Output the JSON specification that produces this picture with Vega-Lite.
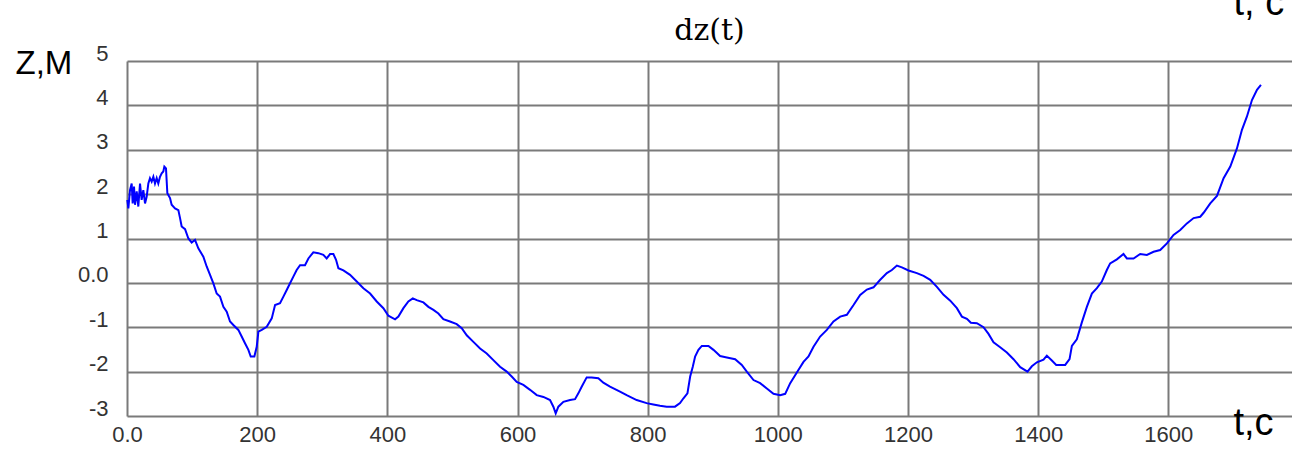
{
  "$schema": "https://vega.github.io/schema/vega-lite/v6.json",
  "width": 1165,
  "height": 355,
  "autosize": {"type": "none"},
  "padding": {"left": 127, "top": 61, "right": 0, "bottom": 33},
  "background": "white",
  "config": {"view": {"stroke": null}},
  "title": {"text": "dz(t)", "font": "DejaVu Serif", "fontSize": 30, "fontWeight": "normal", "color": "#000000", "anchor": "middle", "baseline": "alphabetic", "offset": 0, "dy": 86},
  "data": {"values": [
    {"t": 0.5, "z": 1.87}, {"t": 2.1, "z": 1.68}, {"t": 4.6, "z": 2.09}, {"t": 7.2, "z": 2.24}, {"t": 8.7, "z": 1.79},
    {"t": 10.8, "z": 2.17}, {"t": 12.3, "z": 1.76}, {"t": 14.9, "z": 2.06}, {"t": 17.4, "z": 1.72}, {"t": 20.0, "z": 2.24},
    {"t": 22.5, "z": 1.87}, {"t": 25.1, "z": 2.09}, {"t": 27.7, "z": 1.79}, {"t": 30.2, "z": 1.94}, {"t": 32.8, "z": 2.24},
    {"t": 35.3, "z": 2.36}, {"t": 37.9, "z": 2.28}, {"t": 40.5, "z": 2.39}, {"t": 43.0, "z": 2.24}, {"t": 45.6, "z": 2.36},
    {"t": 48.1, "z": 2.24}, {"t": 50.7, "z": 2.39}, {"t": 53.3, "z": 2.47}, {"t": 55.8, "z": 2.51}, {"t": 57.4, "z": 2.62},
    {"t": 59.9, "z": 2.58}, {"t": 62.0, "z": 2.02}, {"t": 66.1, "z": 1.91}, {"t": 68.6, "z": 1.76}, {"t": 73.8, "z": 1.68},
    {"t": 78.9, "z": 1.64}, {"t": 81.5, "z": 1.46}, {"t": 84.0, "z": 1.27}, {"t": 89.2, "z": 1.21}, {"t": 94.3, "z": 1.0},
    {"t": 99.4, "z": 0.91}, {"t": 104.5, "z": 0.97}, {"t": 109.6, "z": 0.78}, {"t": 117.3, "z": 0.59}, {"t": 122.4, "z": 0.37},
    {"t": 127.6, "z": 0.18}, {"t": 132.7, "z": -0.01}, {"t": 137.8, "z": -0.24}, {"t": 142.9, "z": -0.31}, {"t": 148.1, "z": -0.54},
    {"t": 153.2, "z": -0.65}, {"t": 158.3, "z": -0.87}, {"t": 163.4, "z": -0.95}, {"t": 171.1, "z": -1.06}, {"t": 176.2, "z": -1.21},
    {"t": 181.3, "z": -1.36}, {"t": 186.5, "z": -1.51}, {"t": 190.1, "z": -1.66}, {"t": 195.7, "z": -1.66}, {"t": 199.3, "z": -1.44},
    {"t": 201.9, "z": -1.1}, {"t": 207.0, "z": -1.06}, {"t": 214.7, "z": -0.99}, {"t": 222.4, "z": -0.8}, {"t": 227.5, "z": -0.5},
    {"t": 235.1, "z": -0.46}, {"t": 240.3, "z": -0.31}, {"t": 245.4, "z": -0.16}, {"t": 250.5, "z": -0.01}, {"t": 255.6, "z": 0.14},
    {"t": 260.7, "z": 0.29}, {"t": 265.9, "z": 0.4}, {"t": 273.5, "z": 0.4}, {"t": 278.7, "z": 0.55}, {"t": 286.3, "z": 0.69},
    {"t": 294.0, "z": 0.67}, {"t": 301.7, "z": 0.63}, {"t": 306.8, "z": 0.55}, {"t": 312.0, "z": 0.65}, {"t": 317.1, "z": 0.65},
    {"t": 321.2, "z": 0.52}, {"t": 324.8, "z": 0.33}, {"t": 332.5, "z": 0.28}, {"t": 342.7, "z": 0.18}, {"t": 353.0, "z": 0.03},
    {"t": 363.2, "z": -0.12}, {"t": 373.5, "z": -0.24}, {"t": 383.7, "z": -0.42}, {"t": 393.9, "z": -0.57}, {"t": 401.6, "z": -0.74},
    {"t": 404.2, "z": -0.76}, {"t": 411.9, "z": -0.82}, {"t": 417.0, "z": -0.76}, {"t": 424.7, "z": -0.57}, {"t": 432.3, "z": -0.42},
    {"t": 439.1, "z": -0.35}, {"t": 445.2, "z": -0.39}, {"t": 455.4, "z": -0.44}, {"t": 463.1, "z": -0.54}, {"t": 470.8, "z": -0.61},
    {"t": 478.4, "z": -0.69}, {"t": 486.1, "z": -0.82}, {"t": 496.3, "z": -0.87}, {"t": 506.6, "z": -0.93}, {"t": 514.3, "z": -1.02},
    {"t": 522.0, "z": -1.18}, {"t": 532.2, "z": -1.33}, {"t": 542.5, "z": -1.48}, {"t": 552.7, "z": -1.59}, {"t": 562.9, "z": -1.74},
    {"t": 573.2, "z": -1.89}, {"t": 583.4, "z": -2.0}, {"t": 591.1, "z": -2.11}, {"t": 598.8, "z": -2.23}, {"t": 609.0, "z": -2.3},
    {"t": 619.3, "z": -2.41}, {"t": 629.5, "z": -2.53}, {"t": 639.8, "z": -2.57}, {"t": 650.0, "z": -2.64}, {"t": 655.1, "z": -2.79},
    {"t": 658.7, "z": -2.94}, {"t": 662.8, "z": -2.79}, {"t": 670.5, "z": -2.68}, {"t": 680.7, "z": -2.64}, {"t": 688.4, "z": -2.62},
    {"t": 693.5, "z": -2.49}, {"t": 698.6, "z": -2.34}, {"t": 706.3, "z": -2.13}, {"t": 714.0, "z": -2.13}, {"t": 724.2, "z": -2.15},
    {"t": 731.9, "z": -2.25}, {"t": 742.1, "z": -2.34}, {"t": 757.5, "z": -2.45}, {"t": 767.7, "z": -2.53}, {"t": 783.1, "z": -2.64},
    {"t": 798.4, "z": -2.71}, {"t": 808.7, "z": -2.74}, {"t": 818.9, "z": -2.77}, {"t": 829.2, "z": -2.79}, {"t": 842.0, "z": -2.79},
    {"t": 849.7, "z": -2.71}, {"t": 855.0, "z": -2.6}, {"t": 861.1, "z": -2.49}, {"t": 865.3, "z": -2.11}, {"t": 869.3, "z": -1.89},
    {"t": 872.9, "z": -1.66}, {"t": 878.0, "z": -1.51}, {"t": 883.2, "z": -1.42}, {"t": 893.4, "z": -1.42}, {"t": 901.1, "z": -1.51},
    {"t": 911.3, "z": -1.65}, {"t": 921.6, "z": -1.68}, {"t": 934.4, "z": -1.72}, {"t": 944.6, "z": -1.85}, {"t": 952.3, "z": -2.0},
    {"t": 962.6, "z": -2.19}, {"t": 972.8, "z": -2.26}, {"t": 983.1, "z": -2.38}, {"t": 993.3, "z": -2.5}, {"t": 1003.6, "z": -2.53},
    {"t": 1011.3, "z": -2.5}, {"t": 1019.0, "z": -2.26}, {"t": 1029.2, "z": -2.02}, {"t": 1039.4, "z": -1.78}, {"t": 1047.1, "z": -1.66},
    {"t": 1054.8, "z": -1.44}, {"t": 1065.0, "z": -1.21}, {"t": 1075.3, "z": -1.06}, {"t": 1085.5, "z": -0.87}, {"t": 1095.8, "z": -0.76},
    {"t": 1106.0, "z": -0.72}, {"t": 1116.3, "z": -0.5}, {"t": 1126.5, "z": -0.27}, {"t": 1136.8, "z": -0.15}, {"t": 1147.0, "z": -0.1},
    {"t": 1157.3, "z": 0.07}, {"t": 1167.5, "z": 0.22}, {"t": 1175.2, "z": 0.29}, {"t": 1182.9, "z": 0.39}, {"t": 1190.6, "z": 0.35},
    {"t": 1200.8, "z": 0.28}, {"t": 1213.6, "z": 0.22}, {"t": 1223.9, "z": 0.16}, {"t": 1234.1, "z": 0.07}, {"t": 1244.4, "z": -0.09},
    {"t": 1254.6, "z": -0.27}, {"t": 1264.9, "z": -0.4}, {"t": 1275.1, "z": -0.57}, {"t": 1282.8, "z": -0.76}, {"t": 1290.5, "z": -0.81},
    {"t": 1296.6, "z": -0.9}, {"t": 1305.8, "z": -0.91}, {"t": 1316.0, "z": -1.0}, {"t": 1323.7, "z": -1.15}, {"t": 1331.4, "z": -1.34},
    {"t": 1341.6, "z": -1.45}, {"t": 1351.9, "z": -1.57}, {"t": 1362.1, "z": -1.72}, {"t": 1372.4, "z": -1.9}, {"t": 1383.6, "z": -2.0},
    {"t": 1390.3, "z": -1.88}, {"t": 1398.0, "z": -1.79}, {"t": 1408.2, "z": -1.73}, {"t": 1413.3, "z": -1.64}, {"t": 1421.0, "z": -1.75},
    {"t": 1427.7, "z": -1.85}, {"t": 1441.5, "z": -1.85}, {"t": 1448.2, "z": -1.72}, {"t": 1451.8, "z": -1.42}, {"t": 1459.4, "z": -1.27},
    {"t": 1467.1, "z": -0.89}, {"t": 1474.8, "z": -0.54}, {"t": 1482.5, "z": -0.24}, {"t": 1490.2, "z": -0.12}, {"t": 1497.8, "z": 0.03},
    {"t": 1505.5, "z": 0.29}, {"t": 1510.6, "z": 0.44}, {"t": 1520.9, "z": 0.53}, {"t": 1531.1, "z": 0.65}, {"t": 1536.3, "z": 0.55},
    {"t": 1546.5, "z": 0.55}, {"t": 1556.8, "z": 0.65}, {"t": 1567.0, "z": 0.63}, {"t": 1577.3, "z": 0.7}, {"t": 1587.5, "z": 0.74},
    {"t": 1597.8, "z": 0.89}, {"t": 1608.0, "z": 1.08}, {"t": 1618.3, "z": 1.19}, {"t": 1628.5, "z": 1.34}, {"t": 1638.8, "z": 1.46},
    {"t": 1649.0, "z": 1.49}, {"t": 1654.2, "z": 1.58}, {"t": 1664.4, "z": 1.79}, {"t": 1674.7, "z": 1.96}, {"t": 1684.9, "z": 2.36},
    {"t": 1695.2, "z": 2.62}, {"t": 1705.4, "z": 3.03}, {"t": 1713.1, "z": 3.45}, {"t": 1720.8, "z": 3.75}, {"t": 1728.5, "z": 4.12},
    {"t": 1736.2, "z": 4.35}, {"t": 1742.3, "z": 4.46}
  ]},
  "layer": [
    {
      "mark": {"type": "line", "color": "#0000ff", "strokeWidth": 2},
      "encoding": {
        "x": {
          "field": "t", "type": "quantitative",
          "scale": {"domain": [0, 1790], "nice": false, "zero": false},
          "axis": {
            "orient": "bottom",
            "values": [0, 200, 400, 600, 800, 1000, 1200, 1400, 1600],
            "format": "d",
            "labelExpr": "datum.value === 0 ? '0.0' : '' + datum.value",
            "grid": true, "gridColor": "#7a7a7a", "gridWidth": 2,
            "ticks": false, "tickSize": 0, "domain": false,
            "labelFont": "Liberation Sans", "labelFontSize": 22, "labelColor": "#333333",
            "labelPadding": 8, "labelBaseline": "top", "labelOverlap": false, "labelFlush": false,
            "title": "t,c", "titleFont": "Liberation Sans", "titleFontSize": 38, "titleFontWeight": "normal",
            "titleColor": "#000000", "titleAlign": "left", "titleAnchor": "start", "titleBaseline": "alphabetic",
            "titleX": 1106, "titleY": 18
          }
        },
        "y": {
          "field": "z", "type": "quantitative",
          "scale": {"domain": [-3, 5], "nice": false, "zero": false},
          "axis": {
            "values": [-3, -2, -1, 0, 1, 2, 3, 4, 5],
            "labelExpr": "datum.value === 0 ? '0.0' : '' + datum.value",
            "grid": true, "gridColor": "#7a7a7a", "gridWidth": 2,
            "ticks": false, "tickSize": 0, "domain": false,
            "labelFont": "Liberation Sans", "labelFontSize": 22, "labelColor": "#333333",
            "labelPadding": 19, "labelBaseline": "alphabetic", "labelAlign": "right", "labelOffset": -1,
            "labelOverlap": false, "labelFlush": false,
            "title": "Z,M", "titleFont": "Liberation Sans", "titleFontSize": 33, "titleFontWeight": "normal",
            "titleColor": "#000000", "titleAngle": 0, "titleAlign": "left", "titleBaseline": "alphabetic",
            "titleX": -112, "titleY": 12
          }
        }
      }
    },
    {
      "mark": {"type": "line", "opacity": 0},
      "encoding": {
        "x": {
          "field": "t", "type": "quantitative",
          "axis": {
            "orient": "top", "labels": false, "ticks": false, "domain": false, "grid": false,
            "title": "t, c", "titleFont": "Liberation Sans", "titleFontSize": 38, "titleFontWeight": "normal",
            "titleColor": "#000000", "titleAlign": "left", "titleAnchor": "start", "titleBaseline": "alphabetic",
            "titleX": 1106, "titleY": -47
          }
        },
        "y": {"field": "z", "type": "quantitative"}
      }
    }
  ],
  "resolve": {"axis": {"x": "independent"}}
}
